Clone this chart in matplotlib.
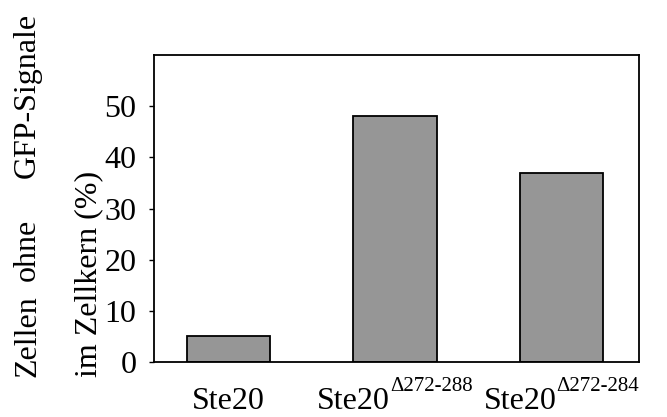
import matplotlib
matplotlib.use("Agg")
import matplotlib.pyplot as plt

plt.rcParams["font.family"] = ["Liberation Serif", "DejaVu Serif"]

# data
base_labels = ["Ste20", "Ste20", "Ste20"]
sup_labels = ["", "\u0394272-288", "\u0394272-284"]
values = [5, 48, 37]
yticks = [0, 10, 20, 30, 40, 50]

W, H = 667, 417
fig = plt.figure(figsize=(W / 100, H / 100), dpi=100)
ax = fig.add_axes([154 / W, 1 - 362 / H, (639 - 154) / W, (362 - 55) / H])

x = list(range(len(values)))
ax.bar(x, values, width=0.5, color="#969696", edgecolor="black", linewidth=1.3)

ax.set_xlim(-0.445, 2.465)
ax.set_ylim(0, 60)
ax.set_yticks(yticks)
ax.set_xticks([])
ax.tick_params(axis="y", length=3.6, width=1, pad=9, labelsize=23, direction="out")
for s in ax.spines.values():
    s.set_linewidth(1.3)
    s.set_color("black")

# category labels with small raised superscripts, centred under each bar
fs_main, fs_sup = 23, 15
base_y = 409      # baseline, pixels from top
raise_px = 18
renderer = fig.canvas.get_renderer()
for i, (b, sp) in enumerate(zip(base_labels, sup_labels)):
    t1 = fig.text(0, 1 - base_y / H, b, fontsize=fs_main, ha="left", va="baseline")
    t2 = fig.text(0, 1 - (base_y - raise_px) / H, sp, fontsize=fs_sup, ha="left", va="baseline")
    w1 = t1.get_window_extent(renderer).width
    w2 = t2.get_window_extent(renderer).width if sp else 0
    cx = ax.transData.transform((i, 0))[0]
    left = cx - (w1 + w2) / 2
    t1.set_x(left / W)
    t2.set_x((left + w1) / W)

# two-line y label, first line spread out like a justified paragraph
fs = 23
x1 = 35 / W
kw = dict(rotation=90, rotation_mode="anchor", va="baseline", fontsize=fs)
fig.text(x1, 1 - 377 / H, "Zellen", ha="left", **kw)
fig.text(x1, 1 - 281 / H, "ohne", ha="left", **kw)
fig.text(x1, 1 - 13 / H, "GFP-Signale", ha="right", **kw)
fig.text(96 / W, 1 - 377 / H, "im Zellkern (%)", ha="left", **kw)

fig.savefig("out.png", dpi=100)
